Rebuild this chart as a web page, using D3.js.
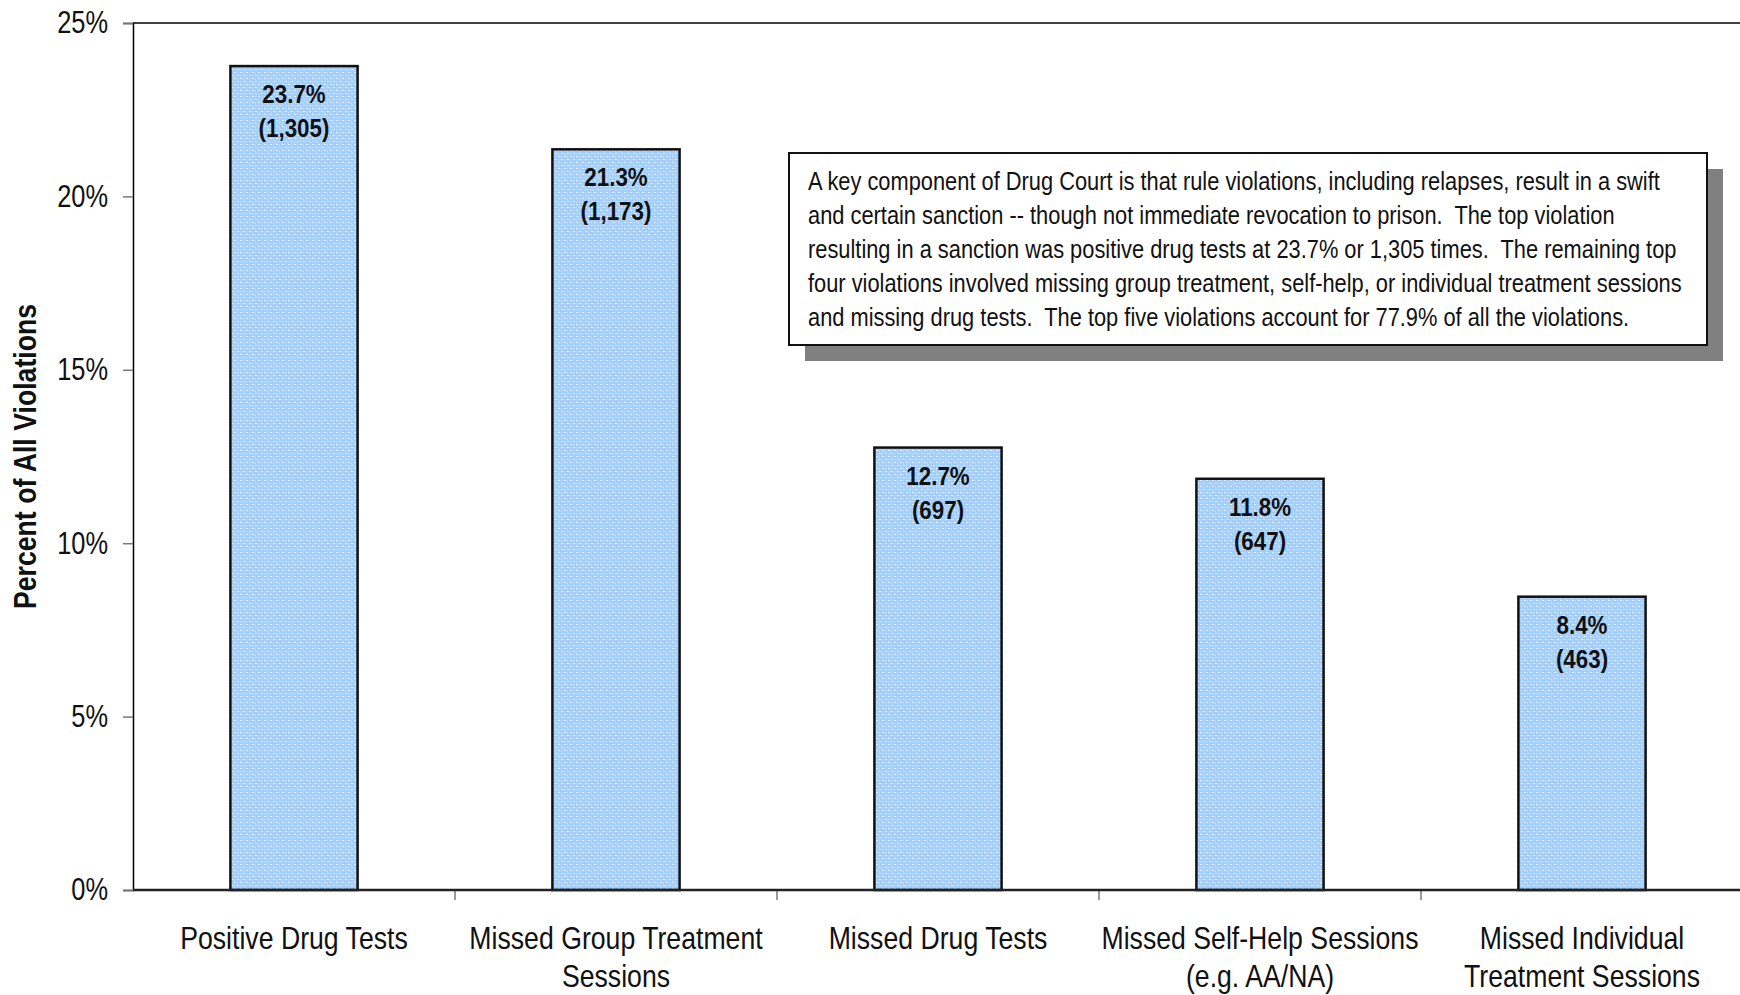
<!DOCTYPE html>
<html>
<head>
<meta charset="utf-8">
<script src="https://cdn.jsdelivr.net/npm/d3@7"></script>
<style>
    body { margin: 0; background: #fff; }
    svg { display: block; font-family: "Liberation Sans", Arial, sans-serif; }
</style>
</head>
<body>
<div id="chart"></div>
<script>
// Chart data
const categories = [
    ['Positive Drug Tests'],
    ['Missed Group Treatment', 'Sessions'],
    ['Missed Drug Tests'],
    ['Missed Self-Help Sessions', '(e.g. AA/NA)'],
    ['Missed Individual', 'Treatment Sessions']
];
const percents = [23.7, 21.3, 12.7, 11.8, 8.4];
const counts = [1305, 1173, 697, 647, 463];
const yTicks = [0, 5, 10, 15, 20, 25];
const noteLines = [
    'A key component of Drug Court is that rule violations, including relapses, result in a swift',
    'and certain sanction -- though not immediate revocation to prison.  The top violation',
    'resulting in a sanction was positive drug tests at 23.7% or 1,305 times.  The remaining top',
    'four violations involved missing group treatment, self-help, or individual treatment sessions',
    'and missing drug tests.  The top five violations account for 77.9% of all the violations.'
];

const width = 1740, height = 995;
const margin = { top: 23, right: -3, bottom: 105, left: 133 };
// no narrow font installed, so squeeze the regular one sideways
const NARROW = 0.86;

const svg = d3.select('#chart').append('svg')
    .attr('width', width)
    .attr('height', height);

// dotted light blue fill like the original
const defs = svg.append('defs');
const pat = defs.append('pattern')
    .attr('id', 'dots')
    .attr('patternUnits', 'userSpaceOnUse')
    .attr('width', 6)
    .attr('height', 6);
pat.append('rect').attr('width', 6).attr('height', 6).attr('fill', '#a3cdfb');
pat.append('rect').attr('x', 0).attr('y', 0).attr('width', 2).attr('height', 1).attr('fill', '#e2f0ff');
pat.append('rect').attr('x', 3).attr('y', 3).attr('width', 2).attr('height', 1).attr('fill', '#e2f0ff');
pat.append('rect').attr('x', 3).attr('y', 0).attr('width', 1).attr('height', 2).attr('fill', '#bcdcfd');
pat.append('rect').attr('x', 0).attr('y', 3).attr('width', 1).attr('height', 2).attr('fill', '#bcdcfd');

const x = d3.scaleBand()
    .domain(d3.range(categories.length))
    .range([margin.left, width - margin.right])
    .paddingInner(0.605)
    .paddingOuter(0.3025);

const band = d3.scaleBand()
    .domain(d3.range(categories.length))
    .range([margin.left, width - margin.right]);

const y = d3.scaleLinear()
    .domain([0, 25])
    .range([height - margin.bottom, margin.top]);

// top border of plot area
svg.append('line')
    .attr('x1', margin.left).attr('x2', width)
    .attr('y1', y(25)).attr('y2', y(25))
    .attr('stroke', '#000').attr('stroke-width', 1.5);

// y axis
const yAxis = svg.append('g')
    .attr('transform', `translate(${margin.left},0)`)
    .call(d3.axisLeft(y).tickValues(yTicks).tickFormat(d => d + '%').tickSize(10).tickPadding(14));
yAxis.select('.domain').attr('stroke', '#000').attr('stroke-width', 1.5);
yAxis.selectAll('.tick line').attr('stroke', '#777').attr('stroke-width', 1.5);
yAxis.selectAll('.tick text')
    .attr('font-size', 31)
    .attr('fill', '#111')
    .attr('font-family', '"Liberation Sans", Arial, sans-serif')
    .attr('x', -25 / 0.82)
    .attr('transform', 'scale(0.82,1)');

// category boundary ticks on x axis
svg.append('g')
    .selectAll('line')
    .data(d3.range(1, categories.length))
    .join('line')
    .attr('x1', d => band(d)).attr('x2', d => band(d))
    .attr('y1', y(0)).attr('y2', y(0) + 10)
    .attr('stroke', '#777').attr('stroke-width', 1.5);

// bars (outline sits a touch outside the value, like the original)
svg.append('g')
    .selectAll('rect')
    .data(percents)
    .join('rect')
    .attr('x', (d, i) => x(i))
    .attr('y', d => y(d) - 2)
    .attr('width', x.bandwidth())
    .attr('height', d => y(0) - y(d) + 2)
    .attr('fill', 'url(#dots)')
    .attr('stroke', '#111')
    .attr('stroke-width', 2.5);

// x axis line
svg.append('line')
    .attr('x1', margin.left).attr('x2', width)
    .attr('y1', y(0)).attr('y2', y(0))
    .attr('stroke', '#222').attr('stroke-width', 2.5);

// value labels inside bars
const fmt = d3.format(',');
const labels = svg.append('g')
    .attr('font-weight', 'bold')
    .attr('font-size', 26)
    .attr('text-anchor', 'middle')
    .attr('fill', '#111');
labels.selectAll('text.pct')
    .data(percents)
    .join('text')
    .attr('class', 'pct')
    .attr('transform', (d, i) => `translate(${x(i) + x.bandwidth() / 2},${y(d) + 35}) scale(${NARROW},1)`)
    .text(d => d.toFixed(1) + '%');
labels.selectAll('text.cnt')
    .data(counts)
    .join('text')
    .attr('class', 'cnt')
    .attr('transform', (d, i) => `translate(${x(i) + x.bandwidth() / 2},${y(percents[i]) + 69}) scale(${NARROW},1)`)
    .text(d => '(' + fmt(d) + ')');

// category labels
const cat = svg.append('g')
    .attr('font-size', 31)
    .attr('text-anchor', 'middle')
    .attr('fill', '#111');
categories.forEach((lines, i) => {
    const t = cat.append('text')
        .attr('transform', `translate(${band(i) + band.bandwidth() / 2},${y(0) + 59}) scale(${NARROW},1)`);
    lines.forEach((ln, j) => {
        t.append('tspan')
            .attr('x', 0)
            .attr('dy', j === 0 ? 0 : 38)
            .text(ln);
    });
});

// y axis title
svg.append('text')
    .attr('transform', `translate(25,${(y(0) + y(25)) / 2}) rotate(-90) scale(${NARROW},1)`)
    .attr('text-anchor', 'middle')
    .attr('dominant-baseline', 'central')
    .attr('font-weight', 'bold')
    .attr('font-size', 31)
    .attr('fill', '#111')
    .text('Percent of All Violations');

// annotation box with shadow
const box = { x: 789, y: 153, w: 918, h: 192 };
svg.append('rect')
    .attr('x', box.x + 16).attr('y', box.y + 16)
    .attr('width', box.w).attr('height', box.h)
    .attr('fill', '#808080');
svg.append('rect')
    .attr('x', box.x).attr('y', box.y)
    .attr('width', box.w).attr('height', box.h)
    .attr('fill', '#fff')
    .attr('stroke', '#111')
    .attr('stroke-width', 2);
svg.append('g')
    .attr('font-size', 26)
    .attr('fill', '#111')
    .selectAll('text')
    .data(noteLines)
    .join('text')
    .attr('transform', (d, i) => `translate(${box.x + 19},${box.y + 37 + i * 34}) scale(0.84,1)`)
    .attr('xml:space', 'preserve')
    .style('white-space', 'pre')
    .text(d => d);
</script>
</body>
</html>
